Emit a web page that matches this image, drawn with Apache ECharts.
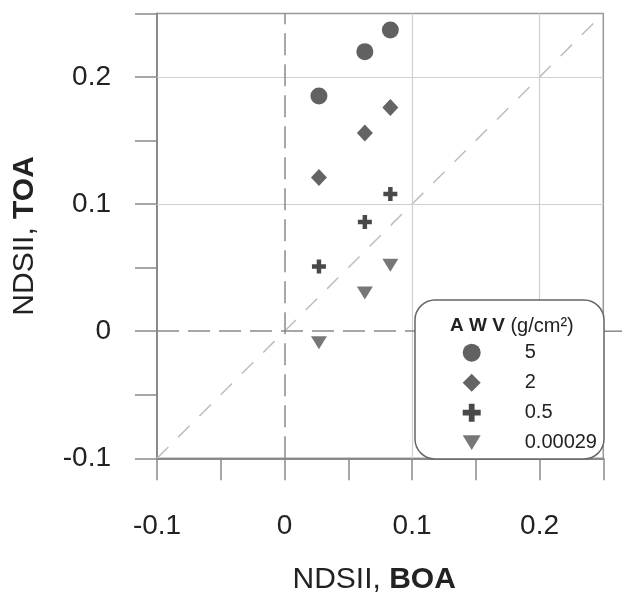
<!DOCTYPE html>
<html>
<head>
<meta charset="utf-8">
<script src="https://cdn.jsdelivr.net/npm/echarts@6/dist/echarts.min.js"></script>
<style>html,body{margin:0;padding:0;background:#fff}#c{width:622px;height:593px}</style>
</head>
<body>
<div id="c"></div>
<script>
// ---- data ----
const xBOA = [0.027, 0.063, 0.083];
const awv5 = [0.185, 0.220, 0.237];
const awv2 = [0.121, 0.156, 0.176];
const awv05 = [0.051, 0.086, 0.108];
const awv00029 = [-0.009, 0.030, 0.052];
const seriesNames = ['5', '2', '0.5', '0.00029'];
const tickLabels = ['-0.1', '0', '0.1', '0.2'];
const gridValues = [0.1, 0.2];
const oneToOne = [[-0.1, -0.1], [0.25, 0.25]];
const axisMin = -0.1, axisMax = 0.25, tickStep = 0.05;

const FONT = 'Liberation Sans, Arial, Helvetica, sans-serif';
const pair = ys => xBOA.map((x, i) => [x, ys[i]]);
const labelFmt = v => {
  const s = tickLabels.find(t => Math.abs(parseFloat(t) - v) < 1e-9);
  return s === undefined ? '' : s;
};

const PLUS = 'path://M3.4,0 H6.6 V3.4 H10 V6.6 H6.6 V10 H3.4 V6.6 H0 V3.4 H3.4 Z';
const TRI_DOWN = 'path://M0,0 L10,0 L5,8.2 Z';

const chart = echarts.init(document.getElementById('c'), null, {renderer: 'canvas'});

const axisCommon = {
  type: 'value', min: axisMin, max: axisMax, interval: tickStep,
  axisLine: {show: true, onZero: false, lineStyle: {color: '#8a8a8a', width: 2}},
  axisTick: {show: true, inside: false, length: 22, lineStyle: {color: '#8a8a8a', width: 1.5}},
  splitLine: {show: false},
  axisLabel: {formatter: labelFmt, fontSize: 28, color: '#222', fontFamily: FONT, showMinLabel: true, showMaxLabel: true}
};

const option = {
  animation: false,
  backgroundColor: '#fff',
  grid: {left: 157, right: 18.7, top: 13.5, bottom: 134.7, containLabel: false, outerBoundsMode: 'none',
    show: true, borderColor: '#999', borderWidth: 1.5, backgroundColor: 'transparent'},
  xAxis: Object.assign({}, axisCommon, {
    name: 'NDSII, {b|BOA}', nameLocation: 'middle', nameGap: 106,
    nameTextStyle: {fontSize: 30, color: '#222', fontFamily: FONT, padding: [0, 12, 0, 0],
      rich: {b: {fontSize: 30, fontWeight: 'bold', color: '#222', fontFamily: FONT}}},
    axisLabel: Object.assign({}, axisCommon.axisLabel, {margin: 54})
  }),
  yAxis: Object.assign({}, axisCommon, {
    name: 'NDSII, {b|TOA}', nameLocation: 'middle', nameGap: 117,
    nameTextStyle: {fontSize: 30, color: '#222', fontFamily: FONT,
      rich: {b: {fontSize: 30, fontWeight: 'bold', color: '#222', fontFamily: FONT}}},
    axisLabel: Object.assign({}, axisCommon.axisLabel, {margin: 46})
  }),
  legend: {
    orient: 'vertical', left: 462.7, top: 342.7, padding: 0,
    itemWidth: 18, itemHeight: 18, itemGap: 10, z: 200,
    data: seriesNames,
    textStyle: {fontSize: 20, color: '#222', fontFamily: FONT, padding: [0, 0, 0, 39]},
    selectedMode: false
  },
  graphic: [
    {id: 'lbox', type: 'rect', z: 150, shape: {x: 415, y: 300, width: 189, height: 159, r: 20},
     style: {fill: '#fff', stroke: '#666', lineWidth: 1.5}},
    {id: 'ltitle', type: 'text', z: 160, left: 450, top: 316,
     style: {text: '{a|A W V}{b| (g/cm²)}', rich: {
       a: {fontSize: 19, fontWeight: 'bold', fill: '#222', fontFamily: FONT},
       b: {fontSize: 20, fill: '#222', fontFamily: FONT}}}}
  ],
  series: [
    {type: 'line', data: oneToOne, symbol: 'none', silent: true, z: 1,
     lineStyle: {color: '#bdbdbd', width: 1.5, type: [16, 14]},
     markLine: {silent: true, symbol: 'none', label: {show: false},
       lineStyle: {color: '#cfcfcf', width: 1.2, type: 'solid'},
       data: gridValues.map(v => ({xAxis: v})).concat(gridValues.map(v => ({yAxis: v})))}},
    {type: 'line', data: [], symbol: 'none', silent: true, z: 1,
     markLine: {silent: true, symbol: 'none', label: {show: false},
       lineStyle: {color: '#8a8a8a', width: 1.5, type: [22, 9]},
       data: [{xAxis: 0}, {yAxis: 0}]}},
    {name: seriesNames[0], type: 'scatter', data: pair(awv5), symbol: 'circle', symbolSize: 17, z: 5,
     itemStyle: {color: '#3a3a3a'}},
    {name: seriesNames[1], type: 'scatter', data: pair(awv2), symbol: 'diamond', symbolSize: [16, 17], z: 5,
     itemStyle: {color: '#3d3d3d'}},
    {name: seriesNames[2], type: 'scatter', data: pair(awv05), symbol: PLUS, symbolSize: 14, z: 5,
     itemStyle: {color: '#1c1c1c'}},
    {name: seriesNames[3], type: 'scatter', data: pair(awv00029), symbol: TRI_DOWN, symbolSize: [16, 13], z: 5,
     itemStyle: {color: '#555555'}}
  ]
};
chart.setOption(option);

// extend the y=0 reference line past the right frame, as in the original figure
const p0 = chart.convertToPixel({gridIndex: 0}, [axisMax, 0]);
chart.setOption({graphic: [{id: 'zeroExt', type: 'line', z: 1,
  shape: {x1: p0[0], y1: p0[1], x2: 622, y2: p0[1]}, style: {stroke: '#8a8a8a', lineWidth: 1.5}}]});
</script>
</body>
</html>
